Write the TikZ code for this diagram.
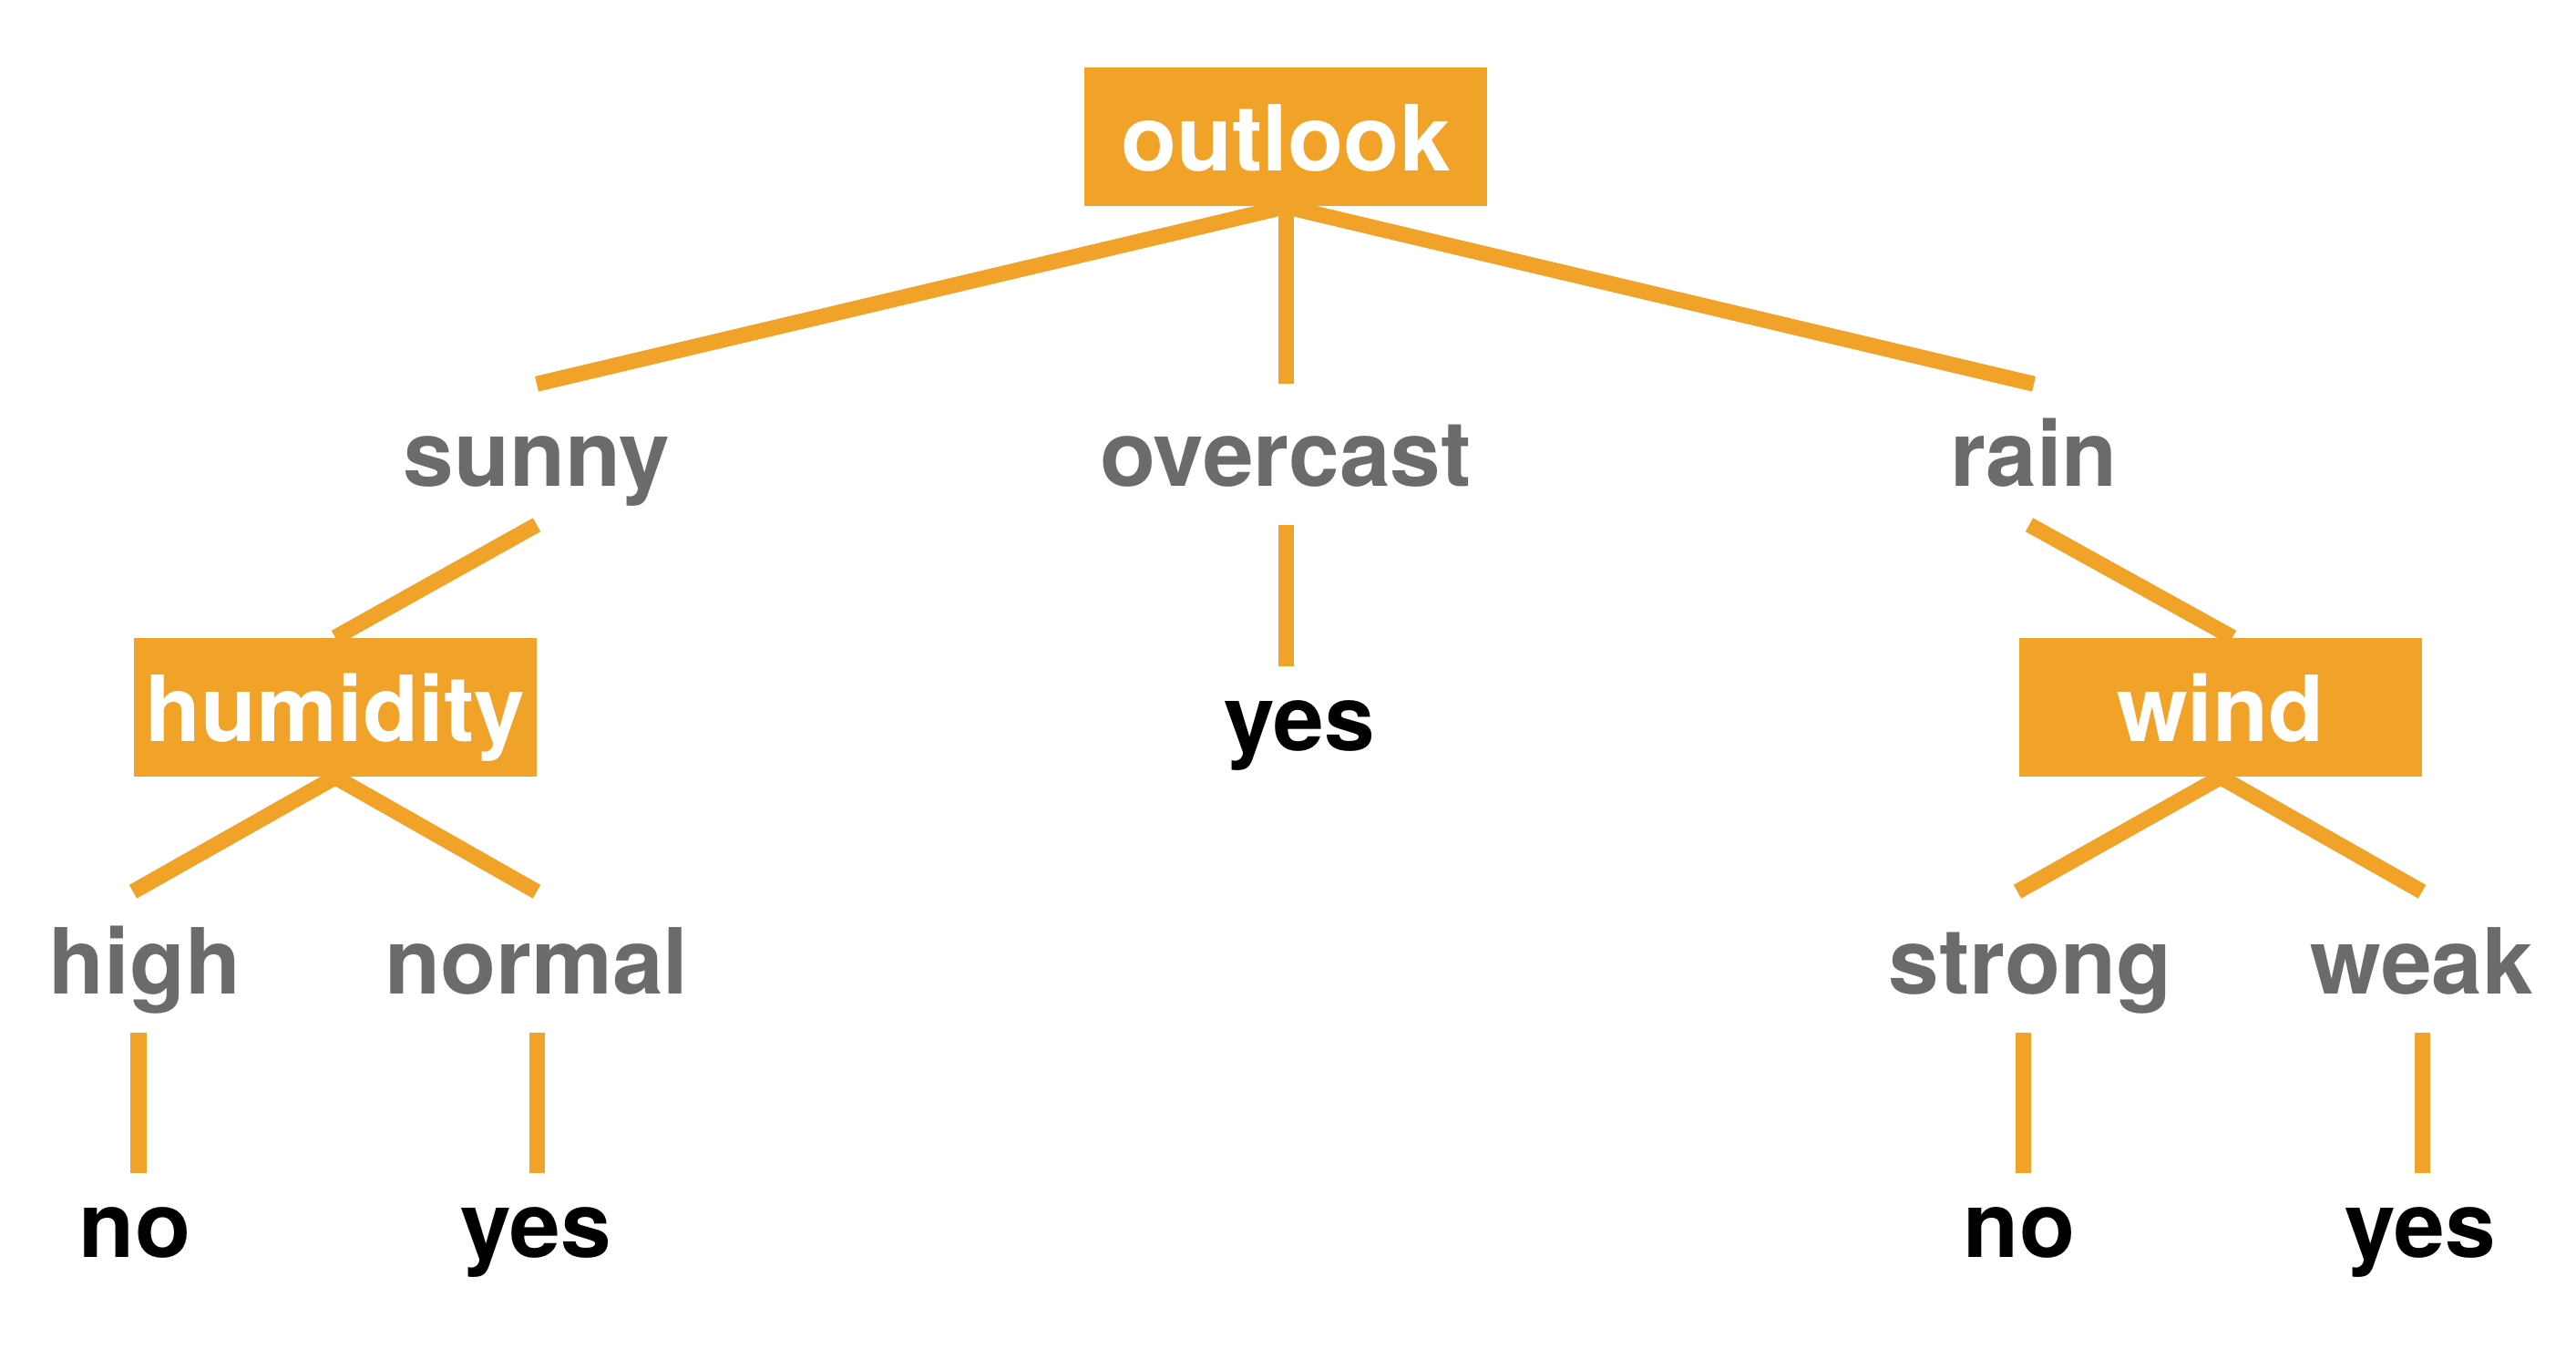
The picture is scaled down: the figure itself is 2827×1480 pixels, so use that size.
\documentclass[tikz,border=0pt]{standalone}
\usepackage{fontspec}
\setmainfont{TeX Gyre Heros}
\usetikzlibrary{backgrounds}
\definecolor{treeorange}{RGB}{240,162,41}
\definecolor{labelgrey}{RGB}{107,107,105}
\begin{document}
\begin{tikzpicture}[x=0.01cm, y=-0.01cm,
  font=\fontsize{28.45}{34}\selectfont\bfseries,
  decision/.style={fill=treeorange, text=white, inner sep=0pt, minimum width=4.42cm, minimum height=1.52cm, text height=1.13cm, text depth=0.39cm},
  valuelabel/.style={text=labelgrey, inner sep=0pt, text height=1.11cm, text depth=0.42cm},
  leaf/.style={text=black, inner sep=0pt, text height=0.92cm, text depth=0.3cm, anchor=north},
  branch/.style={draw=treeorange, line width=0.17cm, line cap=butt}]
\useasboundingbox (0,0) rectangle (2827,1480);

\node[decision] (outlook) at (1411,150) {outlook};
\node[decision] (humidity) at (368,776) {humidity};
\node[decision] (wind) at (2437,776) {wind};

\node[valuelabel] (sunny) at (589,498.5) {sunny};
\node[valuelabel] (overcast) at (1411,498.5) {overcast};
\node[valuelabel] (rain) at (2232,498.5) {rain};
\node[valuelabel] (high) at (159,1055.5) {high};
\node[valuelabel] (normal) at (589,1055.5) {normal};
\node[valuelabel] (strong) at (2228,1055.5) {strong};
\node[valuelabel] (weak) at (2658,1055.5) {weak};

\node[leaf] (yesover) at (1426,731) {yes};
\node[leaf] (nohigh) at (148,1287) {no};
\node[leaf] (yesnormal) at (588,1287) {yes};
\node[leaf] (nostrong) at (2216,1287) {no};
\node[leaf] (yesweak) at (2656,1287) {yes};

\begin{scope}[on background layer]
\draw[branch] (outlook.south) -- (sunny.north);
\draw[branch] (outlook.south) -- (overcast.north);
\draw[branch] (outlook.south) -- (rain.north);
\draw[branch] (sunny.south) -- (humidity.north);
\draw[branch] (overcast.south) -- (overcast.south |- yesover.north);
\draw[branch] ([xshift=-0.05cm]rain.south) -- ([xshift=0.13cm]wind.north);
\draw[branch] (humidity.south) -- ([xshift=-0.13cm]high.north);
\draw[branch] (humidity.south) -- (normal.north);
\draw[branch] (wind.south) -- ([xshift=-0.14cm]strong.north);
\draw[branch] (wind.south) -- (weak.north);
\draw[branch] ([xshift=-0.07cm]high.south) -- ([xshift=-0.07cm]high.south |- nohigh.north);
\draw[branch] (normal.south) -- (normal.south |- yesnormal.north);
\draw[branch] ([xshift=-0.08cm]strong.south) -- ([xshift=-0.08cm]strong.south |- nostrong.north);
\draw[branch] (weak.south) -- (weak.south |- yesweak.north);
\end{scope}
\end{tikzpicture}
\end{document}
